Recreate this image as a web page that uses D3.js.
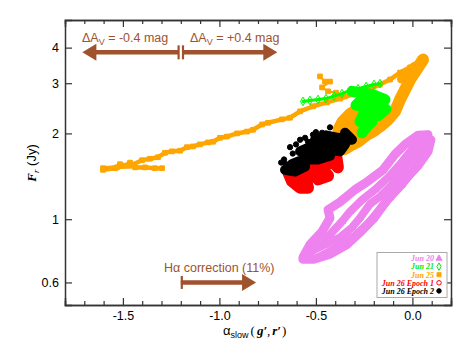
<!DOCTYPE html>
<html lang="en">
<head>
<meta charset="UTF-8">
<script src="https://cdn.jsdelivr.net/npm/d3@7"></script>
<title>index</title>
<style>
    body { margin: 0; background: #fff; }
    text { font-family: "Liberation Sans", Arial, sans-serif; }
    .serif { font-family: "Liberation Serif", "Times New Roman", serif; }
</style>
</head>
<body>
<div id="chart"></div>
<script>
var width = 471, height = 347;
var margin = {left: 65, right: 20, top: 20, bottom: 42};

// ticks
var xMajor = [-1.5, -1.0, -0.5, 0.0];
var xMinor = [-1.7, -1.6, -1.4, -1.3, -1.2, -1.1, -0.9, -0.8, -0.7, -0.6, -0.4, -0.3, -0.2, -0.1, 0.1];
var yTicks = [0.6, 1, 2, 3, 4];

// Jun 20 (violet) - traced loops, [alpha_slow, F_r]
var jun20Upper = [[-0.567,0.734],[-0.531,0.815],[-0.468,0.905],[-0.427,1.01],[-0.437,1.08],[-0.375,1.15],
    [-0.297,1.27],[-0.230,1.36],[-0.152,1.49],[-0.090,1.69],[-0.038,1.83],[0.029,1.97],[0.081,1.98]];
var jun20Inner = [[-0.505,0.796],[-0.427,0.884],[-0.365,0.982],[-0.323,1.064],[-0.261,1.17],[-0.194,1.27],
    [-0.126,1.40],[-0.064,1.56],[-0.002,1.76],[0.060,1.90]];
var jun20Mid = [[-0.531,0.767],[-0.453,0.815],[-0.375,0.863],[-0.313,0.935],[-0.272,1.01],[-0.220,1.13],
    [-0.168,1.20],[-0.106,1.32],[-0.064,1.44],[-0.012,1.59],[0.039,1.76],[0.081,1.90]];
var jun20Outer = [[-0.479,0.740],[-0.375,0.808],[-0.297,0.877],[-0.240,0.950],[-0.178,1.064],[-0.116,1.19],
    [-0.054,1.32],[0.008,1.49],[0.065,1.69]];
var jun20Lower = [[0.096,1.90],[0.081,1.73],[0.029,1.54],[-0.038,1.38],[-0.090,1.27],[-0.142,1.14],
    [-0.204,1.00],[-0.272,0.898],[-0.339,0.815],[-0.427,0.754],[-0.515,0.723],[-0.567,0.723]];

// Jun 25 (orange)
var jun25Tail = [[-1.603,1.51],[-1.531,1.52],[-1.463,1.54],[-1.401,1.61],[-1.360,1.63],[-1.318,1.65],
    [-1.282,1.71],[-1.246,1.73],[-1.204,1.74],[-1.168,1.79],[-1.137,1.80],[-1.101,1.83],[-1.059,1.86],
    [-1.033,1.87],[-0.997,1.93],[-0.961,1.95],[-0.909,2.00],[-0.857,2.03],[-0.826,2.06],[-0.779,2.15],
    [-0.748,2.18],[-0.676,2.24],[-0.634,2.27],[-0.582,2.39],[-0.515,2.49],[-0.442,2.57],[-0.375,2.65],
    [-0.308,2.74],[-0.235,2.83],[-0.168,2.97],[-0.116,3.09],[-0.064,3.27],[-0.012,3.41],[0.039,3.58],[0.055,3.63]];
var jun25Streak = [[-1.603,1.49],[-1.541,1.51],[-1.515,1.56],[-1.489,1.54],[-1.463,1.58],[-1.437,1.52],
    [-1.386,1.52],[-1.334,1.51],[-1.297,1.51]];
var jun25Band = [[0.055,3.63],[0.029,3.41],[-0.012,3.09],[-0.038,2.85],[-0.064,2.63],[-0.090,2.39],
    [-0.126,2.24],[-0.163,2.13],[-0.204,2.03],[-0.240,1.97],[-0.282,1.87],[-0.323,1.81],[-0.354,1.76]];
var jun25Top = [[0.050,3.60],[-0.010,3.30],[-0.060,3.10],[-0.040,3.25],[0.010,3.45]];
var jun25Blob = [[-0.272,2.47],[-0.323,2.35],[-0.365,2.20],[-0.386,2.06],[-0.334,2.10],[-0.292,2.27],
    [-0.323,1.98],[-0.272,2.13],[-0.250,2.00]];
var jun25Spur = [[-0.479,3.17],[-0.453,3.04],[-0.427,3.04],[-0.468,2.90],[-0.437,2.81],[-0.396,2.78],[-0.354,2.70]];

// Jun 21 (green)
var jun21Tail = [[-0.567,2.59],[-0.531,2.61],[-0.489,2.63],[-0.448,2.65],[-0.406,2.70],[-0.365,2.76],
    [-0.323,2.83],[-0.282,2.87],[-0.240,2.92],[-0.199,2.97],[-0.168,2.99]];
var jun21Body = [[-0.313,2.81],[-0.209,2.74],[-0.142,2.63],[-0.178,2.55],[-0.261,2.63],[-0.292,2.51],
    [-0.209,2.47],[-0.137,2.43],[-0.178,2.31],[-0.251,2.35],[-0.272,2.20],[-0.209,2.20],[-0.240,2.10],[-0.261,2.01]];

// Jun 26 epoch 1 (red) and epoch 2 (black)
var jun26e1 = [[-0.645,1.47],[-0.624,1.36],[-0.582,1.29],[-0.541,1.29],[-0.556,1.40],[-0.593,1.49],
    [-0.531,1.52],[-0.489,1.38],[-0.437,1.42],[-0.479,1.54],[-0.411,1.59],[-0.386,1.52],[-0.396,1.69],
    [-0.453,1.65],[-0.520,1.45],[-0.600,1.40],[-0.470,1.47]];
var jun26e2 = [[-0.349,2.01],[-0.313,1.90],[-0.386,1.93],[-0.448,1.97],[-0.505,1.90],[-0.427,1.83],
    [-0.349,1.83],[-0.375,1.73],[-0.453,1.76],[-0.531,1.79],[-0.582,1.73],[-0.505,1.69],[-0.427,1.67],
    [-0.489,1.62],[-0.567,1.62],[-0.624,1.56],[-0.556,1.53],[-0.608,1.47],[-0.660,1.49]];
var jun26e2Dots = [[-0.634,1.79],[-0.655,1.56],[-0.665,1.62],[-0.582,1.90],[-0.556,1.93],[-0.515,1.98],
    [-0.468,2.01],[-0.427,2.10],[-0.603,1.83],[-0.541,1.87],[-0.620,1.70],[-0.680,1.58],[-0.500,2.02]];

// legend
var legendLabels = ['Jun 20', 'Jun 21', 'Jun 25', 'Jun 26 Epoch 1', 'Jun 26 Epoch 2'];
var legendColors = ['#ee82ee', '#00ee00', '#ffa500', '#ff0000', '#000000'];

// annotations
var avCenter = -1.2, avLeft = -1.71, avRight = -0.70, avFlux = 3.85;
var haStart = -1.2, haEnd = -0.81, haFlux = 0.6;

var x = d3.scaleLinear().domain([-1.8, 0.2]).range([margin.left, width - margin.right]);
var y = d3.scaleLog().domain([0.5, 5]).range([height - margin.bottom, margin.top]);

var svg = d3.select('#chart').append('svg')
    .attr('width', width).attr('height', height);

var line = d3.line().x(function(d) { return x(d[0]); }).y(function(d) { return y(d[1]); });

var layers = [
    {data: jun20Upper, color: '#ee82ee', w: 9, sym: d3.symbolTriangle, fill: true},
    {data: jun20Inner, color: '#ee82ee', w: 8, sym: d3.symbolTriangle, fill: true},
    {data: jun20Mid, color: '#ee82ee', w: 8, sym: d3.symbolTriangle, fill: true},
    {data: jun20Outer, color: '#ee82ee', w: 8, sym: d3.symbolTriangle, fill: true},
    {data: jun20Lower, color: '#ee82ee', w: 9, sym: d3.symbolTriangle, fill: true},
    {data: jun25Tail, color: '#ffa500', w: 4.5, sym: d3.symbolSquare, fill: true},
    {data: jun25Streak, color: '#ffa500', w: 4.5, sym: d3.symbolSquare, fill: true},
    {data: jun25Band, color: '#ffa500', w: 12, sym: d3.symbolSquare, fill: true},
    {data: jun25Top, color: '#ffa500', w: 8, sym: d3.symbolSquare, fill: true},
    {data: jun25Blob, color: '#ffa500', w: 11, sym: d3.symbolSquare, fill: true},
    {data: jun25Spur, color: '#ffa500', w: 2, sym: d3.symbolSquare, fill: true},
    {data: jun21Tail, color: '#00ff00', w: 3, sym: d3.symbolDiamond, fill: false},
    {data: jun21Body, color: '#00ff00', w: 11, sym: d3.symbolDiamond, fill: false},
    {data: jun26e1, color: '#ff0000', w: 12, sym: d3.symbolCircle, fill: false},
    {data: jun26e2, color: '#000000', w: 10, sym: d3.symbolCircle, fill: true},
    {data: jun26e2Dots, color: '#000000', w: 0, sym: d3.symbolCircle, fill: true}
];

var plot = svg.append('g');
layers.forEach(function(l) {
    if (l.w > 0) {
        plot.append('path')
            .datum(l.data)
            .attr('d', line)
            .attr('fill', 'none')
            .attr('stroke', l.color)
            .attr('stroke-width', l.w)
            .attr('stroke-linejoin', 'round')
            .attr('stroke-linecap', 'round');
    }
    plot.selectAll(null).data(l.data).enter().append('path')
        .attr('transform', function(d) { return 'translate(' + x(d[0]) + ',' + y(d[1]) + ')'; })
        .attr('d', d3.symbol().type(l.sym).size(22))
        .attr('fill', l.fill ? l.color : 'none')
        .attr('stroke', l.color)
        .attr('stroke-width', 1);
});

// axes (inward ticks on all sides)
var axisColor = '#333';
var fmtX = function(d) { return d.toFixed(1); };
var axB = svg.append('g').attr('transform', 'translate(0,' + y.range()[0] + ')');
axB.call(d3.axisBottom(x).tickValues(xMajor).tickSize(-7).tickPadding(6).tickFormat(fmtX));
axB.append('g').call(d3.axisBottom(x).tickValues(xMinor).tickSize(-4).tickFormat(''));
var axT = svg.append('g').attr('transform', 'translate(0,' + y.range()[1] + ')');
axT.call(d3.axisTop(x).tickValues(xMajor).tickSize(-7).tickFormat(''));
axT.append('g').call(d3.axisTop(x).tickValues(xMinor).tickSize(-4).tickFormat(''));
var axL = svg.append('g').attr('transform', 'translate(' + x.range()[0] + ',0)');
axL.call(d3.axisLeft(y).tickValues(yTicks).tickSize(-7).tickPadding(6).tickFormat(function(d) { return d; }));
var axR = svg.append('g').attr('transform', 'translate(' + x.range()[1] + ',0)');
axR.call(d3.axisRight(y).tickValues(yTicks).tickSize(-7).tickFormat(''));

svg.selectAll('.domain').attr('stroke', axisColor).attr('stroke-width', 1.5);
svg.selectAll('.tick line').attr('stroke', axisColor).attr('stroke-width', 1.2);
svg.selectAll('.tick text').attr('fill', '#000').style('font-size', '12.5px')
    .style('font-family', '"Liberation Sans", Arial, sans-serif');

// axis titles
var xt = svg.append('text').attr('x', 223).attr('y', 335).style('font-size', '13px');
xt.append('tspan').text('α');
xt.append('tspan').attr('dy', 3).style('font-size', '9px').text('slow');
xt.append('tspan').attr('dy', -3).attr('dx', 2).attr('class', 'serif').text('(');
xt.append('tspan').attr('dx', 2).attr('class', 'serif')
    .style('font-style', 'italic').style('font-weight', 'bold').text('g′');
xt.append('tspan').attr('class', 'serif').text(',');
xt.append('tspan').attr('dx', 2).attr('class', 'serif')
    .style('font-style', 'italic').style('font-weight', 'bold').text('r′');
xt.append('tspan').attr('dx', 1).attr('class', 'serif').text(')');

var yt = svg.append('text').attr('transform', 'translate(36,163) rotate(-90)')
    .attr('text-anchor', 'middle').style('font-size', '13px');
yt.append('tspan').attr('class', 'serif').style('font-style', 'italic').style('font-weight', 'bold').text('F');
yt.append('tspan').attr('class', 'serif').style('font-style', 'italic').style('font-size', '9px').attr('dy', 3).text('r');
yt.append('tspan').attr('dy', -3).text(' (Jy)');

// annotations
var brown = '#a0522d';
function arrowHead(px, py, dir) {
    svg.append('path')
        .attr('d', 'M' + px + ',' + py + 'l' + (-dir * 14) + ',-8.5l0,17z')
        .attr('fill', brown);
}
var ay = y(avFlux);
svg.append('line').attr('x1', x(avLeft) + 10).attr('x2', x(avCenter) - 2).attr('y1', ay).attr('y2', ay)
    .attr('stroke', brown).attr('stroke-width', 4.5);
svg.append('line').attr('x1', x(avCenter) + 2).attr('x2', x(avRight) - 10).attr('y1', ay).attr('y2', ay)
    .attr('stroke', brown).attr('stroke-width', 4.5);
[-2.2, 2.2].forEach(function(o) {
    svg.append('line').attr('x1', x(avCenter) + o).attr('x2', x(avCenter) + o)
        .attr('y1', ay - 7).attr('y2', ay + 7).attr('stroke', brown).attr('stroke-width', 2.2);
});
arrowHead(x(avLeft), ay, -1);
arrowHead(x(avRight), ay, 1);

function avLabel(px, txt) {
    var t = svg.append('text').attr('x', px).attr('y', 42).attr('fill', brown).style('font-size', '12.5px');
    t.append('tspan').text('ΔA');
    t.append('tspan').attr('dy', 3).style('font-size', '9px').text('V');
    t.append('tspan').attr('dy', -3).text(txt);
}
avLabel(82, ' = -0.4 mag');
avLabel(190, ' = +0.4 mag');

var hy = y(haFlux);
svg.append('line').attr('x1', x(haStart)).attr('x2', x(haEnd) - 10).attr('y1', hy).attr('y2', hy)
    .attr('stroke', brown).attr('stroke-width', 4.5);
svg.append('line').attr('x1', x(haStart) + 1).attr('x2', x(haStart) + 1).attr('y1', hy - 6.5).attr('y2', hy + 6.5)
    .attr('stroke', brown).attr('stroke-width', 2.2);
arrowHead(x(haEnd), hy, 1);
svg.append('text').attr('x', 164).attr('y', 272).attr('fill', brown).style('font-size', '12.5px')
    .text('Hα correction (11%)');

// legend
var lg = svg.append('g');
lg.append('rect').attr('x', 377).attr('y', 252.5).attr('width', 70).attr('height', 45)
    .attr('fill', '#fff').attr('stroke', '#aaa').attr('stroke-width', 1);
var legSyms = [d3.symbolTriangle, d3.symbolDiamond, d3.symbolSquare, d3.symbolCircle, d3.symbolCircle];
var legFill = [true, false, true, false, true];
legendLabels.forEach(function(lab, i) {
    var ly = 258.5 + i * 8.1;
    lg.append('text').attr('class', 'serif').attr('x', 434).attr('y', ly + 2.8)
        .attr('text-anchor', 'end').attr('fill', legendColors[i])
        .style('font-size', '8px').style('font-style', 'italic').style('font-weight', 'bold')
        .text(lab);
    lg.append('path').attr('transform', 'translate(439,' + ly + ')')
        .attr('d', d3.symbol().type(legSyms[i]).size(16))
        .attr('fill', legFill[i] ? legendColors[i] : 'none')
        .attr('stroke', legendColors[i]).attr('stroke-width', 1);
});
</script>
</body>
</html>
